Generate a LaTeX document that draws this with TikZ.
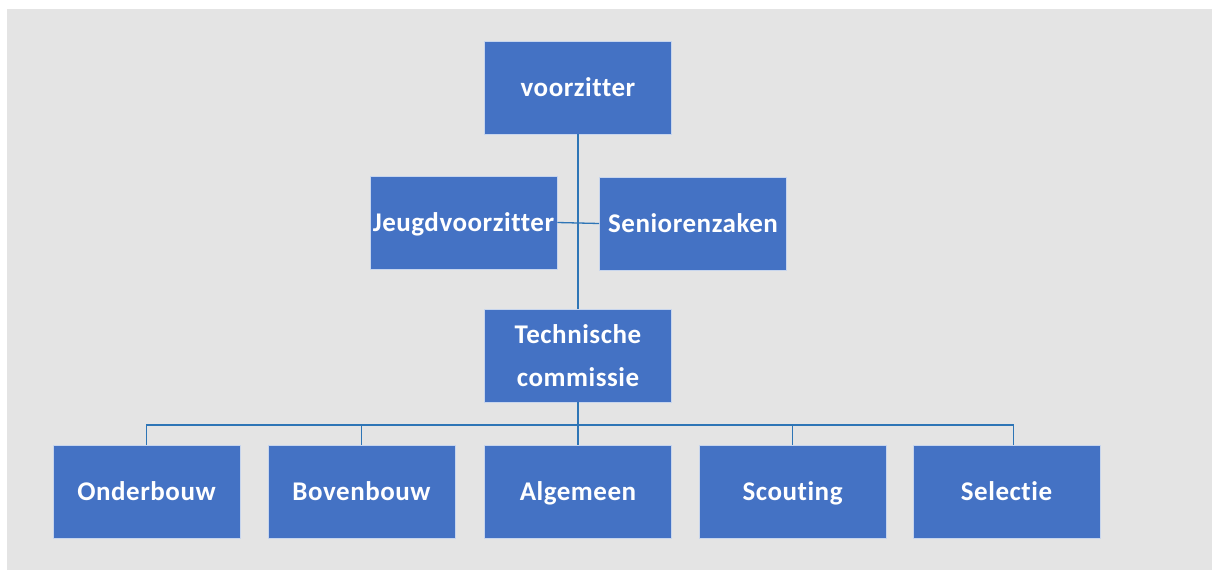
\documentclass[tikz,border=0pt]{standalone}
\usepackage{fontspec}
\setmainfont{Carlito}[Ligatures=NoCommon,LetterSpace=2]
\definecolor{bgc}{HTML}{E4E4E4}
\definecolor{boxc}{HTML}{4472C4}
\definecolor{linec}{HTML}{2E75B6}
\begin{document}
\begin{tikzpicture}[x=1pt,y=-1pt,
  orgbox/.style={draw=white!70!boxc,line width=0.8pt,fill=boxc,minimum width=187pt,minimum height=93pt,inner sep=0pt,
    text=white,font=\fontsize{27}{43}\selectfont\bfseries,align=center},
  onel/.style={orgbox,text height=17pt,text depth=0pt},
  conn/.style={draw=linec,line width=1.3pt}]
\useasboundingbox (0,0) rectangle (1212,570);
\fill[white] (0,0) rectangle (1212,570);
\fill[bgc] (7,9) rectangle (1212,570);
\node[onel] (vz) at (578,87.5) {voorzitter};
\node[onel] (jv) at (463.5,222.5) {Jeugdvoorzitter};
\node[onel] (sz) at (693,223.5) {Seniorenzaken};
\node[orgbox] (tc) at (578,355.5) {Technische\\commissie};
\node[onel] (ob) at (146.5,491.5) {Onderbouw};
\node[onel] (bb) at (361.5,491.5) {Bovenbouw};
\node[onel] (al) at (578,491.5) {Algemeen};
\node[onel] (sc) at (792.5,491.5) {Scouting};
\node[onel] (se) at (1006.5,491.5) {Selectie};
\coordinate (bus) at (578,425);
\draw[conn,line width=1.8pt] (vz.south) -- (tc.north);
\draw[conn] (jv.east) -- (sz.west);
\draw[conn] (tc.south) -- (al.north);
\draw[conn] (ob.north) -- (ob.north |- bus) -- (bus);
\draw[conn] (bb.north) -- (bb.north |- bus);
\draw[conn] (sc.north) -- (sc.north |- bus);
\draw[conn] ([xshift=7pt]se.north) -- ([xshift=7pt]se.north |- bus) -- (bus);
\end{tikzpicture}
\end{document}
